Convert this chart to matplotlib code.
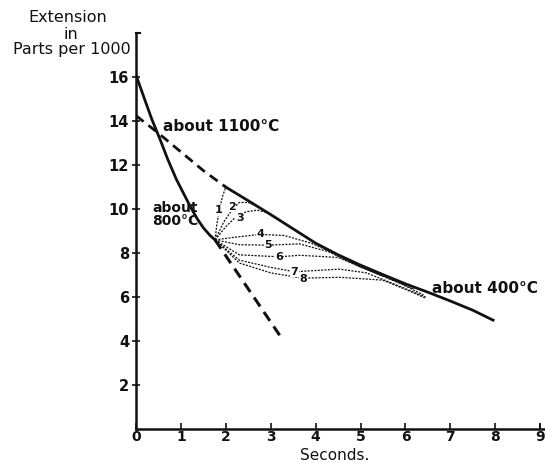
import matplotlib
matplotlib.use("Agg")
import matplotlib.pyplot as plt

# (seconds, extension in parts per 1000)
hot_x = [0.0, 0.2, 0.35, 0.55, 0.7, 0.9, 1.05, 1.2, 1.35, 1.5, 1.65, 1.76]
hot_y = [16.1, 14.95, 14.1, 13.1, 12.3, 11.35, 10.75, 10.15, 9.6, 9.15, 8.8, 8.6]

upper_dash_x = [0.0, 0.5, 1.0, 1.5, 2.0]
upper_dash_y = [14.25, 13.45, 12.6, 11.75, 11.0]

lower_dash_x = [1.76, 3.22]
lower_dash_y = [8.6, 4.2]

cold_x = [2.0, 2.5, 3.0, 3.5, 4.0, 4.5, 5.0, 5.5, 6.0, 6.5, 7.0, 7.5, 7.95]
cold_y = [11.0, 10.38, 9.75, 9.1, 8.45, 7.92, 7.45, 7.02, 6.6, 6.22, 5.82, 5.4, 4.95]

curves_x = [
    [1.76, 1.8, 1.86, 1.93, 2.0],
    [1.76, 1.95, 2.15, 2.3, 2.5, 2.72],
    [1.76, 2.0, 2.25, 2.46, 2.7, 2.9],
    [1.76, 2.2, 2.77, 3.3, 3.9, 4.5, 5.0, 5.5],
    [1.76, 2.3, 2.94, 3.64, 4.3, 5.0, 5.6, 6.2],
    [1.76, 2.3, 3.18, 3.64, 4.5, 5.2, 5.9, 6.4],
    [1.76, 2.3, 3.0, 3.53, 4.53, 5.13, 5.8, 6.45],
    [1.76, 2.3, 3.0, 3.7, 4.53, 5.49, 6.0, 6.45],
]
curves_y = [
    [8.6, 9.3, 10.0, 10.6, 11.0],
    [8.6, 9.4, 10.0, 10.3, 10.3, 10.1],
    [8.6, 9.2, 9.7, 9.88, 9.95, 9.85],
    [8.6, 8.72, 8.85, 8.8, 8.45, 7.9, 7.38, 6.95],
    [8.6, 8.38, 8.36, 8.42, 8.05, 7.36, 6.88, 6.35],
    [8.6, 7.92, 7.83, 7.9, 7.8, 7.2, 6.6, 6.1],
    [8.6, 7.68, 7.35, 7.15, 7.27, 7.1, 6.55, 6.0],
    [8.6, 7.55, 7.1, 6.86, 6.9, 6.77, 6.35, 5.95],
]
curve_labels = ["1", "2", "3", "4", "5", "6", "7", "8"]
label_x = [1.84, 2.13, 2.31, 2.77, 2.94, 3.18, 3.53, 3.72]
label_y = [9.95, 10.1, 9.6, 8.85, 8.36, 7.83, 7.15, 6.8]

x_ticks = list(range(0, 10))
y_ticks = [2, 4, 6, 8, 10, 12, 14, 16]

plt.rcParams["font.family"] = ["DejaVu Sans"]

fig = plt.figure(figsize=(5.45, 4.63), dpi=100)
ax = fig.add_axes([0.2495, 0.0734, 0.75, 0.855])
ax.set_xlim(0, 9.1)
ax.set_ylim(0, 18)

ink = "#111111"
ax.plot(hot_x, hot_y, color=ink, lw=2.0)
ax.plot(cold_x, cold_y, color=ink, lw=2.0)
ax.plot(upper_dash_x, upper_dash_y, color=ink, lw=2.0, dashes=(3.5, 2.2))
ax.plot(lower_dash_x, lower_dash_y, color=ink, lw=2.2, dashes=(3.5, 2.2))

for cx, cy in zip(curves_x, curves_y):
    ax.plot(cx, cy, color=ink, lw=0.9, dashes=(1.6, 1.1))

for t, lx, ly in zip(curve_labels, label_x, label_y):
    ax.text(lx, ly, t, fontsize=8, fontweight="bold", ha="center", va="center", color=ink,
            bbox=dict(boxstyle="square,pad=0.05", fc="white", ec="none"))

ax.text(0.6, 13.75, "about 1100°C", fontsize=11, fontweight="bold", ha="left",
        va="center", color=ink,
        bbox=dict(boxstyle="square,pad=0.05", fc="white", ec="none"))
ax.text(0.88, 9.75, "about\n800°C", fontsize=10, fontweight="bold", ha="center",
        va="center", color=ink, linespacing=0.95)
ax.text(6.6, 6.4, "about 400°C", fontsize=11, fontweight="bold", ha="left",
        va="center", color=ink)

for side in ["top", "right"]:
    ax.spines[side].set_visible(False)
for side in ["left", "bottom"]:
    ax.spines[side].set_linewidth(1.8)
    ax.spines[side].set_color(ink)

ax.set_xticks(x_ticks)
ax.set_xticklabels([str(v) for v in x_ticks], fontweight="bold")
ax.set_yticks(y_ticks)
ax.set_yticklabels([str(v) for v in y_ticks], fontweight="bold")
ax.tick_params(axis="x", direction="in", length=4, width=1.2, pad=1, labelsize=10, colors=ink)
ax.tick_params(axis="y", direction="inout", length=6, width=1.2, pad=2, labelsize=10.5, colors=ink)

# little hook at the top of the y axis and tick at the end of the x axis
ax.plot([0, 0.08], [18, 18], color=ink, lw=1.5, clip_on=False)
ax.plot([9.0, 9.0], [0, 0.25], color=ink, lw=1.2, clip_on=False)

fig.text(0.615, 0.0, "Seconds.", fontsize=11, ha="center", va="bottom", color=ink)
fig.text(0.125, 0.962, "Extension", fontsize=11.5, ha="center", va="center", color=ink)
fig.text(0.13, 0.926, "in", fontsize=11.5, ha="center", va="center", color=ink)
fig.text(0.132, 0.893, "Parts per 1000", fontsize=11.5, ha="center", va="center", color=ink)

fig.savefig("out.png", dpi=100)
